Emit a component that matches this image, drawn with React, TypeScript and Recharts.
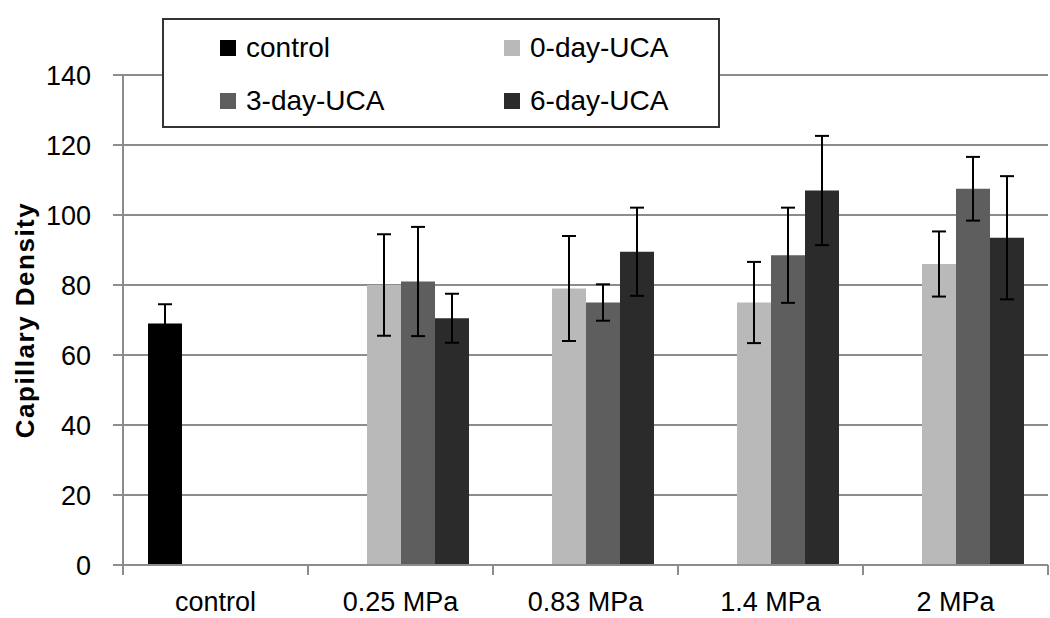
import { Bar, BarChart, CartesianGrid, ErrorBar, Label, XAxis, YAxis } from "recharts";

const categories = ["control", "0.25 MPa", "0.83 MPa", "1.4 MPa", "2 MPa"];
const seriesNames = ["control", "0-day-UCA", "3-day-UCA", "6-day-UCA"];
const seriesColors = ["#000000", "#b9b9b9", "#5e5e5e", "#2b2b2b"];

const controlMean = [69, null, null, null, null];
const controlErr = [5.5, 0, 0, 0, 0];
const day0Mean = [null, 80, 79, 75, 86];
const day0Err = [0, 14.5, 15, 11.6, 9.3];
const day3Mean = [null, 81, 75, 88.5, 107.5];
const day3Err = [0, 15.6, 5.2, 13.6, 9.1];
const day6Mean = [null, 70.5, 89.5, 107, 93.5];
const day6Err = [0, 7, 12.6, 15.6, 17.6];

const yTicks = [0, 20, 40, 60, 80, 100, 120, 140];

const means = [controlMean, day0Mean, day3Mean, day6Mean];
const errs = [controlErr, day0Err, day3Err, day6Err];

const data = categories.map((name, i) => {
  const row: Record<string, string | number | null> = { name };
  seriesNames.forEach((_, s) => {
    row[`v${s}`] = means[s][i];
    row[`e${s}`] = errs[s][i];
  });
  return row;
});

const FONT = "'Liberation Sans', Arial, sans-serif";
const GRID = "#8c8c8c";
const X_TICK_MARGIN = 27;

// category label plus Excel-style tick marks on the band edges
function CategoryTick(props: any) {
  const { x, y, payload, index, visibleTicksCount, width } = props;
  const n = visibleTicksCount || categories.length;
  const bw = (width || 925) / n;
  const y0 = y - X_TICK_MARGIN;
  return (
    <g>
      <line x1={x - bw / 2} x2={x - bw / 2} y1={y0} y2={y0 + 10} stroke={GRID} strokeWidth={2} />
      {index === n - 1 && (
        <line x1={x + bw / 2} x2={x + bw / 2} y1={y0} y2={y0 + 10} stroke={GRID} strokeWidth={2} />
      )}
      <text x={x} y={y} dy="0.71em" textAnchor="middle" fontSize={27} fontFamily={FONT} fill="#000">
        {payload.value}
      </text>
    </g>
  );
}

function LegendBox() {
  return (
    <div
      style={{
        position: "absolute",
        left: 162,
        top: 18,
        width: 554,
        height: 106,
        border: "2px solid #333",
        background: "#fff",
        fontFamily: FONT,
        fontSize: 28,
        color: "#000",
      }}
    >
      {seriesNames.map((n, i) => (
        <div
          key={n}
          style={{
            position: "absolute",
            left: i % 2 === 0 ? 56 : 340,
            top: i < 2 ? 12 : 65,
            display: "flex",
            alignItems: "center",
            height: 32,
          }}
        >
          <span
            style={{
              display: "inline-block",
              width: 16,
              height: 16,
              background: seriesColors[i],
              marginRight: 10,
            }}
          />
          <span>{n}</span>
        </div>
      ))}
    </div>
  );
}

export default function App() {
  return (
    <div style={{ position: "relative", width: 1050, height: 618, background: "#fff" }}>
      <style>{"body{margin:0}"}</style>
      <BarChart
        width={1050}
        height={618}
        data={data}
        margin={{ top: 75, right: 2, bottom: 52, left: 0 }}
        barCategoryGap={25}
        barGap={0}
      >
        <CartesianGrid vertical={false} stroke={GRID} strokeWidth={2} />
        <XAxis
          dataKey="name"
          height={1}
          axisLine={{ stroke: GRID, strokeWidth: 2 }}
          tickLine={false}
          tickSize={0}
          tickMargin={X_TICK_MARGIN}
          tick={<CategoryTick />}
          interval={0}
        />
        <YAxis
          width={123}
          domain={[0, 140]}
          ticks={yTicks}
          tickSize={10}
          tickMargin={22}
          axisLine={{ stroke: GRID, strokeWidth: 2 }}
          tickLine={{ stroke: GRID, strokeWidth: 2 }}
          tick={{ fontSize: 27, fill: "#000", fontFamily: FONT }}
        >
          <Label
            content={(props: any) => {
              const vb = props.viewBox || { y: 75, height: 490 };
              const cx = 25;
              const cy = vb.y + vb.height / 2;
              return (
                <text
                  x={cx}
                  y={cy}
                  transform={`rotate(-90, ${cx}, ${cy})`}
                  textAnchor="middle"
                  dominantBaseline="central"
                  fontFamily={FONT}
                  fontWeight="bold"
                  fontSize={26}
                  letterSpacing={1.5}
                  fill="#000"
                >
                  Capillary Density
                </text>
              );
            }}
          />
        </YAxis>
        {seriesNames.map((n, s) => (
          <Bar key={n} dataKey={`v${s}`} name={n} fill={seriesColors[s]} isAnimationActive={false}>
            <ErrorBar dataKey={`e${s}`} width={7} stroke="#000" strokeWidth={2} direction="y" />
          </Bar>
        ))}
      </BarChart>
      <LegendBox />
    </div>
  );
}
